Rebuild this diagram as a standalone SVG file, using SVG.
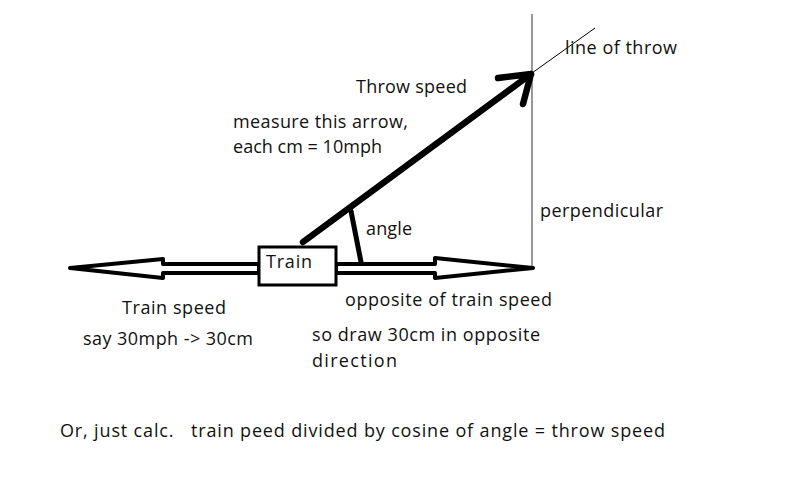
<svg xmlns="http://www.w3.org/2000/svg" width="800" height="500" viewBox="0 0 800 500">
<style>
text{font-family:"Open Sans","Liberation Sans",sans-serif;font-size:18px;fill:#111}
.thick{stroke:#000;stroke-linecap:round;stroke-linejoin:round;fill:none}
.arr{fill:#fff;stroke:#000;stroke-width:4;stroke-linejoin:round}
</style>
<rect width="800" height="500" fill="#fff"/>
<g id="connectors">
<line x1="532" y1="14" x2="532" y2="268" stroke="#777" stroke-width="1.5"/>
<line x1="532" y1="73" x2="595" y2="28" stroke="#000" stroke-width="1"/>
<path class="arr" d="M259,264 L163,264 L163,259 L70,268 L163,278 L163,273 L259,273 Z"/>
<path class="arr" d="M336,264 L435,264 L435,258 L533,268 L435,278 L435,273 L336,273 Z"/>
<path class="thick" stroke-width="6.5" d="M303,242 L531,74 M498,78 L531,74 L523,104"/>
<line class="thick" stroke-width="5" x1="351" y1="211" x2="361" y2="262"/>
</g>
<g id="train">
<rect x="259" y="247" width="77" height="38" fill="#fff" stroke="#000" stroke-width="3"/>
<text x="266" y="268" textLength="46">Train</text>
</g>
<g id="labels">
<text x="565" y="54" textLength="112">line of throw</text>
<text x="356" y="93" textLength="111">Throw speed</text>
<text x="233" y="128" textLength="175">measure this arrow,</text>
<text x="233" y="153" textLength="149">each cm = 10mph</text>
<text x="540" y="217" textLength="123">perpendicular</text>
<text x="366" y="235" textLength="46">angle</text>
<text x="122" y="314" textLength="104">Train speed</text>
<text x="83" y="345" textLength="170">say 30mph -&gt; 30cm</text>
<text x="345" y="306" textLength="207">opposite of train speed</text>
<text x="312" y="341" textLength="228">so draw 30cm in opposite</text>
<text x="312" y="367" textLength="85">direction</text>
<text x="60" y="437" textLength="605" xml:space="preserve">Or, just calc.   train peed divided by cosine of angle = throw speed</text>
</g>
</svg>
